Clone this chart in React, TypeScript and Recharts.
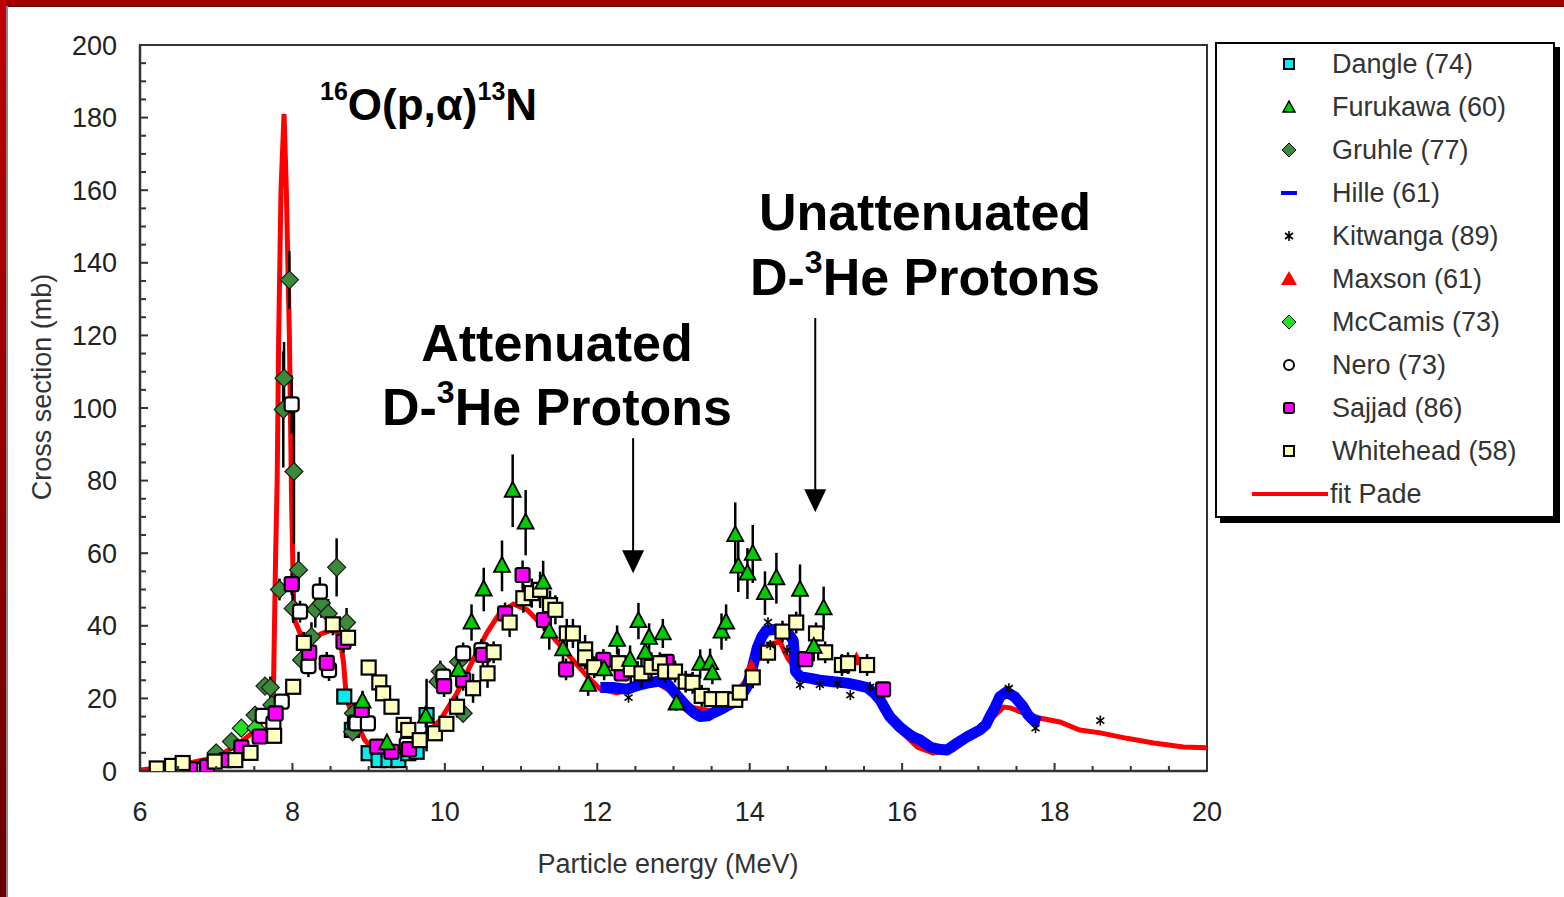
import React from "react";
import {
  ComposedChart,
  Line,
  Scatter,
  XAxis,
  YAxis,
  ErrorBar,
  ReferenceArea,
  ReferenceLine,
  ReferenceDot,
  Legend,
} from "recharts";

const FONT = '"Liberation Sans", Arial, sans-serif';

// [energy MeV, cross section mb, error mb]
const dangle = [
  [8.68, 20.5, 2], [8.78, 11.3, 2], [9.0, 4.9, 1], [9.13, 3, 1], [9.26, 3, 1],
  [9.39, 3, 1], [9.52, 4.9, 1], [9.63, 5.3, 1], [9.76, 15.4, 10],
];

const furukawa = [
  [8.92, 19.1, 3], [9.24, 7.6, 2], [9.75, 15, 3], [10.18, 27.8, 4], [10.35, 40.9, 5],
  [10.51, 50, 6], [10.75, 56.5, 7], [10.89, 77.2, 10], [11.06, 68.4, 9], [11.29, 51.9, 6],
  [11.37, 38.4, 5], [11.55, 33.5, 4], [11.88, 23.7, 3], [12.09, 28, 3], [12.26, 36.1, 4],
  [12.43, 30.6, 4], [12.54, 41.3, 5], [12.63, 32.6, 4], [12.68, 36.7, 4], [12.86, 37.9, 4],
  [13.04, 18.6, 2], [13.35, 29.5, 4], [13.48, 29.7, 4], [13.51, 26.9, 3], [13.63, 38.4, 5],
  [13.69, 40.9, 5], [13.81, 65, 9], [13.85, 56.3, 7], [13.97, 54.4, 7], [14.04, 59.8, 8],
  [14.2, 49, 6], [14.35, 53.1, 7], [14.66, 49.9, 7], [14.84, 34.2, 4], [14.97, 44.8, 6],
];

const gruhle = [
  [7.0, 5, 1], [7.2, 8.1, 1], [7.51, 15.4, 2], [7.64, 23.4, 2], [7.71, 23, 3],
  [7.73, 18.2, 2], [7.83, 50, 3], [7.88, 99.6, 16], [7.89, 108.2, 10], [7.96, 135.3, 8],
  [8.02, 82.5, 20], [8.01, 44.8, 4], [8.08, 55.4, 5], [8.12, 30.6, 3], [8.25, 37, 4],
  [8.3, 44.5, 5], [8.38, 46.2, 4], [8.47, 43.4, 4], [8.58, 56.1, 8], [8.71, 40.9, 4],
  [8.79, 10.8, 2], [8.8, 15.9, 3], [9.91, 24.6, 3], [9.94, 27.4, 3], [10.18, 30.1, 3],
  [10.24, 15.9, 2],
];

const hille = [
  [12.04, 23], [12.2, 23], [12.39, 22.5], [12.52, 23.5], [12.65, 24.2], [12.82, 24.8],
  [12.93, 23.8], [13.0, 22], [13.1, 19.5], [13.18, 17.6], [13.27, 16], [13.35, 15],
  [13.45, 15.2], [13.52, 16], [13.65, 17.3], [13.78, 18.8], [13.88, 20.5], [13.96, 23],
  [14.03, 28], [14.1, 34], [14.16, 37], [14.22, 38.8], [14.33, 39], [14.44, 38.8],
  [14.52, 37.5], [14.57, 36], [14.59, 31], [14.6, 27.5], [14.66, 26], [14.8, 25.5],
  [14.92, 25], [15.1, 24.6], [15.28, 24.2], [15.42, 23.6], [15.54, 23], [15.63, 21.5],
  [15.71, 19.6], [15.78, 17], [15.84, 14.9], [15.97, 12.1], [16.05, 10.8], [16.14, 9.4],
  [16.24, 8.5], [16.37, 6.6], [16.48, 6], [16.59, 5.8], [16.72, 7.7], [16.85, 9.4],
  [17.02, 11.3], [17.1, 12.8], [17.15, 14.9], [17.22, 17.6], [17.28, 20.4], [17.37, 21.8],
  [17.48, 20.4], [17.59, 17.6], [17.65, 15.5], [17.72, 14], [17.81, 13.5],
];

const kitwanga = [
  [12.41, 20.2], [14.24, 41], [14.27, 34.7], [14.49, 33.3], [14.66, 23.7], [14.92, 23.7],
  [15.15, 24], [15.32, 20.9], [15.58, 23.2], [17.4, 22.8], [17.75, 11.8], [18.6, 13.9],
];

const maxson = [[14.02, 28.5], [15.4, 30.5]];

const mccamis = [[6.52, 0.2, 0], [7.33, 11.8, 1], [7.52, 11.8, 1]];

const nero = [
  [6.73, 0.3, 0], [7.61, 15.2, 2], [7.75, 13.1, 2], [7.86, 19.1, 2], [7.99, 101, 8],
  [8.1, 43.9, 3], [8.21, 28.9, 3], [8.36, 49.4, 4], [8.48, 27.8, 3], [8.82, 13.3, 2],
  [8.84, 13.1, 2], [8.99, 13.1, 2], [9.5, 7.2, 2], [9.98, 26, 3], [10.24, 32.4, 3],
  [10.48, 33.3, 3],
];

const sajjad = [
  [6.66, 0.5, 0], [6.88, 1.2, 0], [7.13, 3, 0], [7.33, 6.5, 1], [7.57, 9.5, 1],
  [7.78, 15.9, 2], [7.99, 51.5, 3], [8.22, 32.6, 3], [8.45, 29.8, 3], [8.67, 35.6, 3],
  [8.91, 16.8, 2], [9.11, 6.7, 2], [9.3, 5.3, 1], [9.53, 6, 1], [9.99, 23.4, 3],
  [10.24, 25.1, 3], [10.5, 32, 3], [10.79, 43.4, 3], [11.02, 54, 4], [11.3, 41.6, 3],
  [11.59, 28, 3], [11.84, 31, 3], [12.08, 30.6, 3], [12.32, 26.9, 2], [12.91, 30.1, 2],
  [14.73, 30.8, 2], [15.75, 22.5, 2],
];

const whitehead = [
  [6.22, 0.7, 0], [6.42, 1.4, 0], [6.56, 2.2, 0], [6.98, 2.6, 0], [7.25, 3.0, 0],
  [7.45, 5, 1], [7.76, 9.7, 2], [8.01, 23.2, 2], [8.15, 35.3, 3], [8.53, 40.4, 3],
  [8.73, 36.7, 3], [9.0, 28.5, 2], [9.14, 24.4, 2], [9.19, 21.4, 2], [9.3, 17.7, 2],
  [9.46, 12.7, 2], [9.52, 11.3, 2], [9.67, 8.5, 2], [9.87, 10.4, 2], [10.02, 13, 2],
  [10.16, 17.7, 3], [10.37, 22.8, 4], [10.56, 26.9, 4], [10.64, 32.7, 3], [10.85, 40.9, 4],
  [11.03, 47.6, 4], [11.14, 49, 4], [11.25, 49.9, 5], [11.38, 45.7, 4], [11.45, 44.4, 4],
  [11.6, 37.9, 4], [11.68, 37.9, 4], [11.84, 33.5, 4], [11.84, 31.3, 3], [11.96, 28.6, 3],
  [12.28, 29.7, 4], [12.44, 28, 4], [12.58, 26.9, 4], [12.71, 28.7, 4], [12.82, 29.7, 3],
  [12.89, 27.4, 3], [13.02, 27.4, 3], [13.16, 24.6, 3], [13.25, 24.3, 3], [13.37, 20.7, 3],
  [13.5, 19.8, 2], [13.65, 19.8, 2], [13.81, 19.6, 2], [13.87, 21.6, 2], [14.04, 25.8, 3],
  [14.24, 32.6, 3], [14.43, 38.4, 3], [14.61, 40.9, 3], [14.87, 37.9, 3], [14.99, 32.7, 3],
  [15.21, 29.2, 3], [15.29, 29.7, 3], [15.54, 29.2, 3],
];

const fitPade = [
  [6.0, 0.3], [6.3, 1], [6.6, 2], [6.9, 3.3], [7.1, 5], [7.3, 7.5], [7.5, 11], [7.65, 15],
  [7.75, 21], [7.78, 60], [7.8, 80], [7.82, 120], [7.85, 160], [7.89, 181], [7.92, 160],
  [7.96, 120], [7.99, 73], [8.02, 42], [8.1, 38], [8.25, 36.5], [8.4, 38], [8.55, 39],
  [8.62, 37], [8.67, 30], [8.71, 19.6], [8.8, 15], [8.95, 8.5], [9.1, 5], [9.3, 4],
  [9.5, 4.5], [9.76, 10.5], [9.94, 14], [10.16, 21.5], [10.37, 30.6], [10.55, 38],
  [10.72, 43.5], [10.9, 46], [11.08, 44.4], [11.34, 38.8], [11.6, 32.5], [11.87, 26],
  [12.04, 22.5], [12.26, 21.5], [12.5, 23], [12.8, 24], [13.0, 21.5], [13.25, 17.5],
  [13.5, 16.5], [13.75, 19.5], [13.95, 25], [14.1, 31], [14.25, 35], [14.4, 35.5],
  [14.5, 31], [14.65, 27], [14.85, 25.5], [15.05, 25], [15.32, 24.5], [15.55, 22.5],
  [15.75, 17.6], [15.93, 12], [16.2, 6.6], [16.4, 5], [16.67, 5.8], [16.98, 10.5],
  [17.15, 14], [17.33, 17.6], [17.42, 17.4], [17.55, 16.3], [17.8, 14.6], [18.07, 13.5],
  [18.33, 11.3], [18.6, 10.5], [18.95, 9], [19.3, 7.7], [19.69, 6.6], [20, 6.4],
];

const seriesNames = [
  "Dangle (74)", "Furukawa (60)", "Gruhle (77)", "Hille (61)", "Kitwanga (89)",
  "Maxson (61)", "McCamis (73)", "Nero (73)", "Sajjad (86)", "Whitehead (58)", "fit Pade",
];

const xTicks = Array.from({ length: 29 }, (_, i) => 6 + i * 0.5);
const yTicks = Array.from({ length: 41 }, (_, i) => i * 5);

const pts = (arr: number[][]) => arr.map(([x, y, e]) => ({ x, y, err: e ?? 0 }));

const C = {
  dangle: "#00eef0",
  furukawa: "#00cc00",
  gruhle: "#3a8a3a",
  hille: "#0000ff",
  maxson: "#ff0000",
  mccamis: "#22e022",
  nero: "#ffffff",
  sajjad: "#ff00ff",
  whitehead: "#ffffc0",
  fit: "#ff0000",
};

const square = (fill: string, s = 14, rx = 0) => (p: any) => (
  <rect x={p.cx - s / 2} y={p.cy - s / 2} width={s} height={s} rx={rx} fill={fill} stroke="#000" strokeWidth={2.2} />
);
const diamond = (fill: string, r = 9) => (p: any) => (
  <polygon
    points={`${p.cx},${p.cy - r} ${p.cx + r},${p.cy} ${p.cx},${p.cy + r} ${p.cx - r},${p.cy}`}
    fill={fill}
    stroke="#1a1a1a"
    strokeWidth={1.2}
  />
);
const triangle = (fill: string, r = 8, stroke = "#000") => (p: any) => (
  <polygon
    points={`${p.cx},${p.cy - r - 1} ${p.cx + r},${p.cy + r - 2} ${p.cx - r},${p.cy + r - 2}`}
    fill={fill}
    stroke={stroke}
    strokeWidth={1.8}
  />
);
const asterisk = (p: any) => (
  <g stroke="#000" strokeWidth={1.6}>
    <line x1={p.cx} y1={p.cy - 5} x2={p.cx} y2={p.cy + 5} />
    <line x1={p.cx - 4} y1={p.cy - 3} x2={p.cx + 4} y2={p.cy + 3} />
    <line x1={p.cx - 4} y1={p.cy + 3} x2={p.cx + 4} y2={p.cy - 3} />
  </g>
);
const arrowHead = (p: any) => (
  <polygon points={`${p.cx},${p.cy} ${p.cx - 11},${p.cy - 23} ${p.cx + 11},${p.cy - 23}`} fill="#000" />
);

function XTick(props: any) {
  const { x, y, payload } = props;
  const v = payload.value;
  const major = v % 2 === 0;
  return (
    <g>
      <line x1={x} x2={x} y1={y} y2={y - (major ? 8 : 5)} stroke="#333" strokeWidth={2} />
      {major && (
        <text x={x} y={y + 50} textAnchor="middle" fontSize={27} fontFamily={FONT} fill="#222">
          {v}
        </text>
      )}
    </g>
  );
}

function YTick(props: any) {
  const { x, y, payload } = props;
  const v = payload.value;
  const major = v % 20 === 0;
  return (
    <g>
      <line x1={x} x2={x + (major ? 8 : 6)} y1={y} y2={y} stroke="#333" strokeWidth={2} />
      {major && (
        <text x={x - 23} y={y + 9.5} textAnchor="end" fontSize={27} fontFamily={FONT} fill="#222">
          {v}
        </text>
      )}
    </g>
  );
}

function LegendIcon({ i }: { i: number }) {
  const cx = 72, cy = 16;
  switch (i) {
    case 0: return <rect x={cx - 5} y={cy - 5} width={10} height={10} fill={C.dangle} stroke="#000" strokeWidth={2} />;
    case 1: return <polygon points={`${cx},${cy - 6} ${cx + 6},${cy + 5} ${cx - 6},${cy + 5}`} fill={C.furukawa} stroke="#000" strokeWidth={1.5} />;
    case 2: return <polygon points={`${cx},${cy - 7} ${cx + 7},${cy} ${cx},${cy + 7} ${cx - 7},${cy}`} fill={C.gruhle} stroke="#000" strokeWidth={1} />;
    case 3: return <rect x={cx - 8} y={cy - 2} width={16} height={4} fill={C.hille} />;
    case 4: return asterisk({ cx, cy });
    case 5: return <polygon points={`${cx},${cy - 8} ${cx + 8},${cy + 6} ${cx - 8},${cy + 6}`} fill={C.maxson} />;
    case 6: return <polygon points={`${cx},${cy - 7} ${cx + 7},${cy} ${cx},${cy + 7} ${cx - 7},${cy}`} fill={C.mccamis} stroke="#000" strokeWidth={1} />;
    case 7: return <circle cx={cx} cy={cy} r={5} fill="#fff" stroke="#000" strokeWidth={2} />;
    case 8: return <rect x={cx - 5} y={cy - 5} width={10} height={10} rx={2} fill={C.sajjad} stroke="#000" strokeWidth={2} />;
    case 9: return <rect x={cx - 5} y={cy - 5} width={10} height={10} fill={C.whitehead} stroke="#000" strokeWidth={2} />;
    default: return <line x1={35} x2={111} y1={cy} y2={cy} stroke={C.fit} strokeWidth={4} />;
  }
}

function LegendBox() {
  return (
    <div
      style={{
        position: "relative",
        width: 340,
        height: 476,
        boxSizing: "border-box",
        border: "2px solid #000",
        background: "#fff",
        boxShadow: "5px 5px 0 #000",
        fontFamily: FONT,
      }}
    >
      {seriesNames.map((name, i) => (
        <div key={name} style={{ position: "absolute", left: 0, top: 4 + i * 43, width: 336, height: 32 }}>
          <svg width={115} height={32} style={{ position: "absolute", left: 0, top: 0 }}>
            <LegendIcon i={i} />
          </svg>
          <span
            style={{
              position: "absolute",
              left: i === 10 ? 113 : 115,
              top: 0,
              lineHeight: "32px",
              fontSize: 27,
              color: "#333",
              whiteSpace: "nowrap",
            }}
          >
            {name}
          </span>
        </div>
      ))}
    </div>
  );
}

function Annotations() {
  const bold = { fontFamily: FONT, fontWeight: 700, fill: "#000" } as const;
  return (
    <svg width={1564} height={897} style={{ position: "absolute", left: 0, top: 0, pointerEvents: "none" }}>
      <text x={320} y={120} fontSize={44} {...bold}>
        <tspan fontSize={25} dy={-20}>16</tspan>
        <tspan dy={20}>O(p,α)</tspan>
        <tspan fontSize={25} dy={-20}>13</tspan>
        <tspan dy={20}>N</tspan>
      </text>
      <text x={557} y={361} fontSize={52} textAnchor="middle" {...bold}>Attenuated</text>
      <text x={557} y={425} fontSize={52} textAnchor="middle" {...bold}>
        D-<tspan fontSize={32} dy={-22}>3</tspan><tspan dy={22}>He Protons</tspan>
      </text>
      <text x={925} y={230} fontSize={52} textAnchor="middle" {...bold}>Unattenuated</text>
      <text x={925} y={295} fontSize={52} textAnchor="middle" {...bold}>
        D-<tspan fontSize={32} dy={-22}>3</tspan><tspan dy={22}>He Protons</tspan>
      </text>
      <text x={0} y={0} fontSize={27} fontFamily={FONT} fill="#333" textAnchor="middle" transform="translate(51,387) rotate(-90)">
        Cross section (mb)
      </text>
      <text x={668} y={873} fontSize={27} fontFamily={FONT} fill="#333" textAnchor="middle">
        Particle energy (MeV)
      </text>
    </svg>
  );
}

const arrowA = { x: 12.47, top: 91.7, tip: 54.5 };
const arrowB = { x: 14.86, top: 124.8, tip: 71.3 };

export default function App() {
  return (
    <div style={{ position: "absolute", left: 0, top: 0, width: 1564, height: 897, background: "#fff", overflow: "hidden" }}>
      <ComposedChart
        width={1564}
        height={897}
        margin={{ top: 45, right: 357, bottom: 66, left: 60 }}
      >
        <XAxis
          type="number"
          dataKey="x"
          domain={[6, 20]}
          ticks={xTicks}
          interval={0}
          tick={<XTick />}
          tickLine={false}
          tickSize={0}
          tickMargin={0}
          height={60}
          allowDataOverflow
          axisLine={{ stroke: "#333", strokeWidth: 2.5 }}
        />
        <YAxis
          type="number"
          dataKey="y"
          domain={[0, 200]}
          ticks={yTicks}
          interval={0}
          tick={<YTick />}
          tickLine={false}
          tickSize={0}
          tickMargin={0}
          width={80}
          allowDataOverflow
          axisLine={{ stroke: "#333", strokeWidth: 2.5 }}
        />
        <ReferenceArea x1={6} x2={20} y1={0} y2={200} fill="none" stroke="#333" strokeWidth={2} />
        <Line data={pts(fitPade)} dataKey="y" type="linear" dot={false} stroke={C.fit} strokeWidth={5} isAnimationActive={false} />
        <Line data={pts(hille)} dataKey="y" type="linear" dot={false} stroke={C.hille} strokeWidth={11} strokeLinejoin="round" isAnimationActive={false} />
        <Scatter data={pts(maxson)} shape={triangle(C.maxson, 6, C.maxson)} isAnimationActive={false} />
        <Scatter data={pts(dangle)} shape={square(C.dangle)} isAnimationActive={false}>
          <ErrorBar dataKey="err" direction="y" width={0} stroke="#000" strokeWidth={2.5} />
        </Scatter>
        <Scatter data={pts(gruhle)} shape={diamond(C.gruhle)} isAnimationActive={false}>
          <ErrorBar dataKey="err" direction="y" width={0} stroke="#000" strokeWidth={2.5} />
        </Scatter>
        <Scatter data={pts(mccamis)} shape={diamond(C.mccamis)} isAnimationActive={false}>
          <ErrorBar dataKey="err" direction="y" width={0} stroke="#000" strokeWidth={2.5} />
        </Scatter>
        <Scatter data={pts(nero)} shape={square(C.nero, 14, 3)} isAnimationActive={false}>
          <ErrorBar dataKey="err" direction="y" width={0} stroke="#000" strokeWidth={2.5} />
        </Scatter>
        <Scatter data={pts(sajjad)} shape={square(C.sajjad, 14, 2)} isAnimationActive={false}>
          <ErrorBar dataKey="err" direction="y" width={0} stroke="#000" strokeWidth={2.5} />
        </Scatter>
        <Scatter data={pts(whitehead)} shape={square(C.whitehead)} isAnimationActive={false}>
          <ErrorBar dataKey="err" direction="y" width={0} stroke="#000" strokeWidth={2.5} />
        </Scatter>
        <Scatter data={pts(furukawa)} shape={triangle(C.furukawa)} isAnimationActive={false}>
          <ErrorBar dataKey="err" direction="y" width={0} stroke="#000" strokeWidth={2.5} />
        </Scatter>
        <Scatter data={pts(kitwanga)} shape={asterisk} isAnimationActive={false} />
        <ReferenceLine segment={[{ x: arrowA.x, y: arrowA.top }, { x: arrowA.x, y: arrowA.tip + 5 }]} stroke="#000" strokeWidth={2} />
        <ReferenceDot x={arrowA.x} y={arrowA.tip} shape={arrowHead} />
        <ReferenceLine segment={[{ x: arrowB.x, y: arrowB.top }, { x: arrowB.x, y: arrowB.tip + 5 }]} stroke="#000" strokeWidth={2} />
        <ReferenceDot x={arrowB.x} y={arrowB.tip} shape={arrowHead} />
        <Legend
          layout="vertical"
          align="center"
          verticalAlign="middle"
          content={() => <LegendBox />}
          wrapperStyle={{ left: 1215, top: 42, width: 345, height: 481 }}
        />
      </ComposedChart>
      <Annotations />
      <div style={{ position: "absolute", left: 0, top: 0, width: 1564, height: 6, background: "#a00000", borderBottom: "1px solid #600" }} />
      <div style={{ position: "absolute", left: 0, top: 0, width: 6, height: 897, background: "linear-gradient(#c00000, #6a0000)" }} />
      <div style={{ position: "absolute", left: 6, top: 6, width: 2, height: 891, background: "#888" }} />
    </div>
  );
}
